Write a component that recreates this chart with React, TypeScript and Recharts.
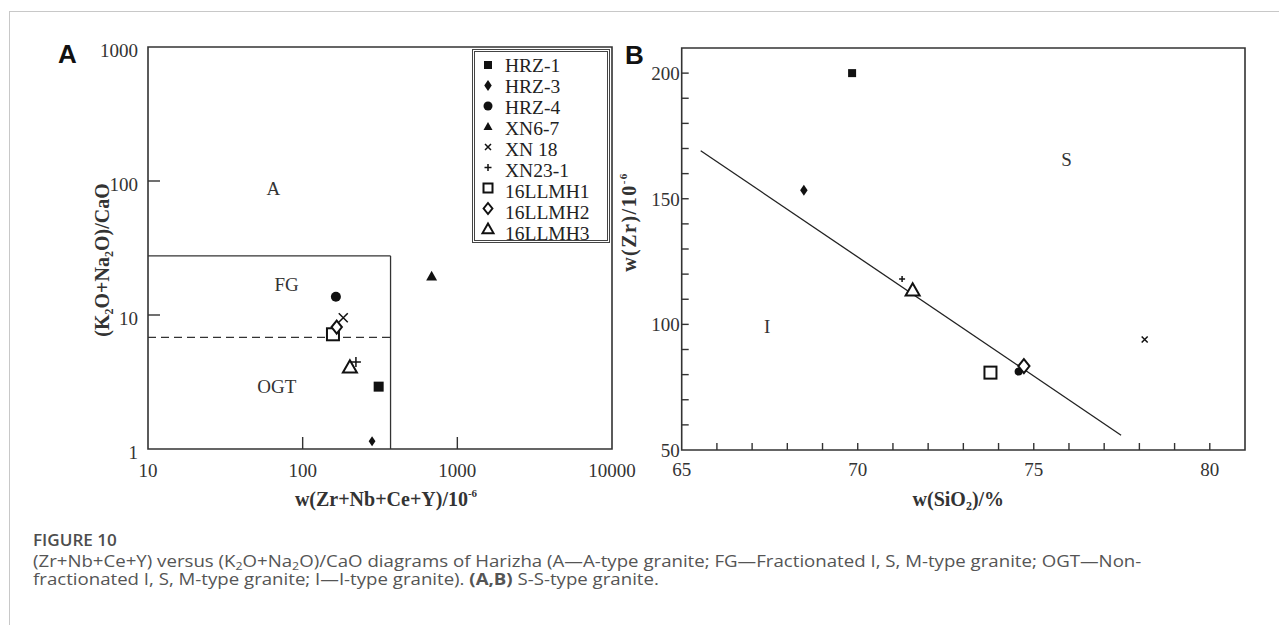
import React from "react";
import {
  ScatterChart,
  Scatter,
  XAxis,
  YAxis,
  ReferenceLine,
  ReferenceArea,
  ReferenceDot,
  Legend,
} from "recharts";

// samples, same order in both panels
const sampleNames = ["HRZ-1", "HRZ-3", "HRZ-4", "XN6-7", "XN 18", "XN23-1", "16LLMH1", "16LLMH2", "16LLMH3"];
const markerKinds = ["sq", "dia", "cir", "tri", "x", "plus", "osq", "odia", "otri"];

// panel A: (Zr+Nb+Ce+Y) vs (K2O+Na2O)/CaO, log-log
const aZrNbCeY = [310, 281, 164, 682, 183, 221, 157, 166, 202];
const aAlkCaO = [2.92, 1.14, 13.7, 19.5, 9.55, 4.45, 7.18, 8.13, 4.08];
const aXTicks = [10, 100, 1000, 10000];
const aYTicks = [1, 10, 100, 1000];
const aBoxX = 370;
const aBoxTop = 27.6;
const aDashY = 6.8;
const aFieldNames = ["A", "FG", "OGT"];
const aFieldX = [64.6, 78.8, 68];
const aFieldY = [88, 17, 2.93];

// panel B: SiO2 vs Zr
const bSiO2 = [69.84, 68.47, 74.57, null, 78.15, 71.26, 73.77, 74.72, 71.56];
const bZr = [200, 153.4, 81.2, null, 94.0, 118.1, 80.8, 83.4, 113.6];
const bXTicks = [65, 66, 67, 68, 69, 70, 71, 72, 73, 74, 75, 76, 77, 78, 79, 80];
const bYTicks = [50, 60, 70, 80, 90, 100, 110, 120, 130, 140, 150, 160, 170, 180, 190, 200];
const bDividerX = [65.54, 77.48];
const bDividerY = [169.1, 55.9];
const bFieldNames = ["S", "I"];
const bFieldX = [75.93, 67.43];
const bFieldY = [165.6, 99.3];

const INK = "#111";
const LINE = "#333";
const SERIF = "'Liberation Serif', 'Times New Roman', serif";
const tickFont = { fontFamily: SERIF, fontSize: 19, fill: "#333" };

const sizeA: Record<string, number> = { sq: 10, dia: 10, cir: 10, tri: 11, x: 9, plus: 10, osq: 14, odia: 13, otri: 14 };
const sizeB: Record<string, number> = { sq: 8, dia: 11, cir: 8, tri: 10, x: 6, plus: 6, osq: 14, odia: 14, otri: 14 };
const sizeLegend: Record<string, number> = { sq: 8, dia: 11, cir: 9, tri: 9, x: 6, plus: 7, osq: 11, odia: 11, otri: 11 };

function Marker({ kind, cx, cy, s }: { kind: string; cx: number; cy: number; s: number }) {
  const h = s / 2;
  switch (kind) {
    case "sq":
      return <rect x={cx - h} y={cy - h} width={s} height={s} fill={INK} />;
    case "dia":
      return <polygon points={`${cx},${cy - h} ${cx + h * 0.68},${cy} ${cx},${cy + h} ${cx - h * 0.68},${cy}`} fill={INK} />;
    case "cir":
      return <circle cx={cx} cy={cy} r={h} fill={INK} />;
    case "tri":
      return <polygon points={`${cx},${cy - h} ${cx + h},${cy + h * 0.8} ${cx - h},${cy + h * 0.8}`} fill={INK} />;
    case "x":
      return <path d={`M${cx - h},${cy - h}L${cx + h},${cy + h}M${cx - h},${cy + h}L${cx + h},${cy - h}`} stroke={INK} strokeWidth={1.5} />;
    case "plus":
      return <path d={`M${cx - h},${cy}L${cx + h},${cy}M${cx},${cy - h}L${cx},${cy + h}`} stroke={INK} strokeWidth={1.5} />;
    case "osq":
      return <rect x={cx - h + 1} y={cy - h + 1} width={s - 2} height={s - 2} fill="#fff" stroke={INK} strokeWidth={2} />;
    case "odia":
      return <polygon points={`${cx},${cy - h} ${cx + h * 0.8},${cy} ${cx},${cy + h} ${cx - h * 0.8},${cy}`} fill="#fff" stroke={INK} strokeWidth={2} />;
    case "otri":
      return <polygon points={`${cx},${cy - h} ${cx + h},${cy + h * 0.75} ${cx - h},${cy + h * 0.75}`} fill="#fff" stroke={INK} strokeWidth={2} />;
    default:
      return null;
  }
}

const aSeries = sampleNames.map((name, i) => ({ name, kind: markerKinds[i], data: [{ x: aZrNbCeY[i], y: aAlkCaO[i] }] }));
const bSeries = sampleNames
  .map((name, i) => ({ name, kind: markerKinds[i], data: bSiO2[i] == null ? [] : [{ x: bSiO2[i] as number, y: bZr[i] as number }] }))
  .filter((s) => s.data.length > 0);

const fieldLabel = (value: string) => ({
  value,
  position: "center" as const,
  fontFamily: SERIF,
  fontSize: 19,
  fill: "#333",
});

// legend keeps the sample order (recharts would sort it by name)
const renderLegend = () => (
  <div style={{ width: 138, height: 194, border: "3px double #444", boxSizing: "border-box", background: "#fff", position: "relative" }}>
    <svg width={132} height={190} style={{ position: "absolute", left: 0, top: 0, overflow: "visible" }}>
      {sampleNames.map((name, i) => {
        const kind = markerKinds[i];
        return (
          <g key={name}>
            <Marker kind={kind} cx={13} cy={13 + i * 20.5} s={sizeLegend[kind]} />
            <text x={30} y={20 + i * 21} style={{ fontFamily: SERIF, fontSize: 19.5, fill: "#222" }}>
              {name}
            </text>
          </g>
        );
      })}
    </svg>
  </div>
);

// Panel A ticks: inward marks at the inner decades, labels outside
const aXTick = (p: any) => {
  const v = p.payload.value;
  const inner = v !== aXTicks[0] && v !== aXTicks[aXTicks.length - 1];
  return (
    <g>
      {inner && <line x1={p.x} x2={p.x} y1={p.y} y2={p.y - 12} stroke={LINE} strokeWidth={1.4} />}
      <text x={p.x} y={p.y + 28} textAnchor="middle" style={tickFont}>
        {v}
      </text>
    </g>
  );
};
const aYTick = (p: any) => {
  const v = p.payload.value;
  const inner = v !== aYTicks[0] && v !== aYTicks[aYTicks.length - 1];
  return (
    <g>
      {inner && <line x1={p.x} x2={p.x + 12} y1={p.y} y2={p.y} stroke={LINE} strokeWidth={1.4} />}
      <text x={p.x - 10} y={p.y + 10} textAnchor="end" style={tickFont}>
        {v}
      </text>
    </g>
  );
};

const bXTick = (p: any) => {
  const v = p.payload.value;
  return (
    <g>
      {v !== bXTicks[0] && <line x1={p.x} x2={p.x} y1={p.y} y2={p.y - 7} stroke={LINE} strokeWidth={1.4} />}
      {v % 5 === 0 && (
        <text x={p.x} y={p.y + 26} textAnchor="middle" style={tickFont}>
          {v}
        </text>
      )}
    </g>
  );
};
const bYTick = (p: any) => {
  const v = p.payload.value;
  return (
    <g>
      {v !== bYTicks[0] && <line x1={p.x} x2={p.x + 7} y1={p.y} y2={p.y} stroke={LINE} strokeWidth={1.4} />}
      {v % 50 === 0 && (
        <text x={p.x - 2} y={p.y + 7} textAnchor="end" style={tickFont}>
          {v}
        </text>
      )}
    </g>
  );
};

const titleStyle = { fontFamily: SERIF, fontSize: 20, fontWeight: 700, fill: "#333" };

const aXTitle = ({ viewBox }: any) => (
  <text x={viewBox.x + viewBox.width / 2 + 6} y={viewBox.y + 57} textAnchor="middle" style={titleStyle}>
    w(Zr+Nb+Ce+Y)/10
    <tspan fontSize={11} dy={-9}>-6</tspan>
  </text>
);
const aYTitle = ({ viewBox }: any) => {
  const tx = viewBox.x + 1;
  const ty = viewBox.y + viewBox.height / 2 + 12;
  return (
    <text x={tx} y={ty} transform={`rotate(-90 ${tx} ${ty})`} textAnchor="middle" style={titleStyle}>
      (K<tspan fontSize={12} dy={4}>2</tspan>
      <tspan dy={-4}>O+Na</tspan>
      <tspan fontSize={12} dy={4}>2</tspan>
      <tspan dy={-4}>O)/CaO</tspan>
    </text>
  );
};
const bXTitle = ({ viewBox }: any) => (
  <text x={viewBox.x + viewBox.width / 2 - 5} y={viewBox.y + 56} textAnchor="middle" style={titleStyle}>
    w(SiO<tspan fontSize={12} dy={4}>2</tspan>
    <tspan dy={-4}>)/%</tspan>
  </text>
);
const bYTitle = ({ viewBox }: any) => {
  const tx = viewBox.x - 6;
  const ty = viewBox.y + viewBox.height / 2 - 27;
  return (
    <text x={tx} y={ty} transform={`rotate(-90 ${tx} ${ty})`} textAnchor="middle" style={{ ...titleStyle, letterSpacing: 1.5 }}>
      w(Zr)/10
      <tspan fontSize={11} dy={-9}>-6</tspan>
    </text>
  );
};

function PanelA() {
  return (
    <ScatterChart width={640} height={520} margin={{ top: 47, right: 28, bottom: 41, left: 108 }}>
      <XAxis
        dataKey="x"
        type="number"
        scale="log"
        domain={[10, 10000]}
        ticks={aXTicks}
        interval={0}
        allowDataOverflow
        axisLine={false}
        tickLine={false}
        tickSize={0}
        tickMargin={0}
        tick={aXTick}
        height={30}
        label={aXTitle}
      />
      <YAxis
        dataKey="y"
        type="number"
        scale="log"
        domain={[1, 1000]}
        ticks={aYTicks}
        interval={0}
        allowDataOverflow
        axisLine={false}
        tickLine={false}
        tickSize={0}
        tickMargin={0}
        tick={aYTick}
        width={40}
        label={aYTitle}
      />
      <ReferenceArea x1={10} x2={10000} y1={1} y2={1000} fill="none" stroke={LINE} strokeWidth={1.6} ifOverflow="visible" />
      <ReferenceLine segment={[{ x: 10, y: aBoxTop }, { x: aBoxX, y: aBoxTop }]} stroke={LINE} strokeWidth={1.3} />
      <ReferenceLine segment={[{ x: aBoxX, y: 1 }, { x: aBoxX, y: aBoxTop }]} stroke={LINE} strokeWidth={1.3} />
      <ReferenceLine segment={[{ x: 10, y: aDashY }, { x: aBoxX, y: aDashY }]} stroke={LINE} strokeWidth={1.3} strokeDasharray="8 5" />
      {aFieldNames.map((n, i) => (
        <ReferenceDot key={n} x={aFieldX[i]} y={aFieldY[i]} r={0} stroke="none" fill="none" label={fieldLabel(n)} />
      ))}
      <Legend
        layout="vertical"
        align="center"
        verticalAlign="middle"
        content={renderLegend}
        wrapperStyle={{ left: 472, top: 49, width: 138, height: 194 }}
      />
      {aSeries.map((s) => (
        <Scatter
          key={s.name}
          name={s.name}
          data={s.data}
          isAnimationActive={false}
          shape={(p: any) => <Marker kind={s.kind} cx={p.cx} cy={p.cy} s={sizeA[s.kind]} />}
        />
      ))}
    </ScatterChart>
  );
}

function PanelB() {
  return (
    <ScatterChart width={679} height={520} margin={{ top: 48, right: 34, bottom: 40, left: 41.7 }}>
      <XAxis
        dataKey="x"
        type="number"
        domain={[65, 81]}
        ticks={bXTicks}
        interval={0}
        allowDataOverflow
        axisLine={false}
        tickLine={false}
        tickSize={0}
        tickMargin={0}
        tick={bXTick}
        height={30}
        label={bXTitle}
      />
      <YAxis
        dataKey="y"
        type="number"
        domain={[50, 210]}
        ticks={bYTicks}
        interval={0}
        allowDataOverflow
        axisLine={false}
        tickLine={false}
        tickSize={0}
        tickMargin={0}
        tick={bYTick}
        width={40}
        label={bYTitle}
      />
      <ReferenceArea x1={65} x2={81} y1={50} y2={210} fill="none" stroke={LINE} strokeWidth={1.6} ifOverflow="visible" />
      <ReferenceLine
        segment={[{ x: bDividerX[0], y: bDividerY[0] }, { x: bDividerX[1], y: bDividerY[1] }]}
        stroke="#222"
        strokeWidth={1.3}
      />
      {bFieldNames.map((n, i) => (
        <ReferenceDot key={n} x={bFieldX[i]} y={bFieldY[i]} r={0} stroke="none" fill="none" label={fieldLabel(n)} />
      ))}
      {bSeries.map((s) => (
        <Scatter
          key={s.name}
          name={s.name}
          data={s.data}
          isAnimationActive={false}
          shape={(p: any) => <Marker kind={s.kind} cx={p.cx} cy={p.cy} s={sizeB[s.kind]} />}
        />
      ))}
    </ScatterChart>
  );
}

const capFont = "'Open Sans', 'Noto Sans', sans-serif";
const capStyle = { fontFamily: capFont, fontSize: 16.5, fill: "#555" };

export default function App() {
  return (
    <div style={{ position: "absolute", left: 0, top: 0, width: 1279, height: 625, background: "#fff", overflow: "hidden" }}>
      <div style={{ position: "absolute", left: 0, top: 0 }}>
        <PanelA />
      </div>
      <div style={{ position: "absolute", left: 600, top: 0 }}>
        <PanelB />
      </div>
      <svg width={1279} height={625} style={{ position: "absolute", left: 0, top: 0, pointerEvents: "none" }}>
        <line x1={9} y1={11.5} x2={1279} y2={11.5} stroke="#c8c8c8" strokeWidth={1} />
        <line x1={9.5} y1={11} x2={9.5} y2={625} stroke="#c8c8c8" strokeWidth={1} />
        <text x={58} y={63} style={{ fontFamily: "'Liberation Sans', Arial, sans-serif", fontWeight: 700, fontSize: 26, fill: "#111" }}>A</text>
        <text x={625} y={64} style={{ fontFamily: "'Liberation Sans', Arial, sans-serif", fontWeight: 700, fontSize: 26, fill: "#111" }}>B</text>
        <g transform="translate(33,546) scale(1.07,1)">
          <text x={0} y={0} style={{ fontFamily: capFont, fontWeight: 600, fontSize: 16, fill: "#4d4d4d" }}>FIGURE 10</text>
        </g>
        <g transform="translate(33,567) scale(1.13,1)">
          <text x={0} y={0} style={capStyle}>
            (Zr+Nb+Ce+Y) versus (K<tspan fontSize={11} dy={3}>2</tspan>
            <tspan dy={-3}>O+Na</tspan>
            <tspan fontSize={11} dy={3}>2</tspan>
            <tspan dy={-3}>O)/CaO diagrams of Harizha (A—A-type granite; FG—Fractionated I, S, M-type granite; OGT—Non-</tspan>
          </text>
        </g>
        <g transform="translate(33,585) scale(1.13,1)">
          <text x={0} y={0} style={capStyle}>
            fractionated I, S, M-type granite; I—I-type granite). <tspan fontWeight={700}>(A,B)</tspan> S-S-type granite.
          </text>
        </g>
      </svg>
    </div>
  );
}
